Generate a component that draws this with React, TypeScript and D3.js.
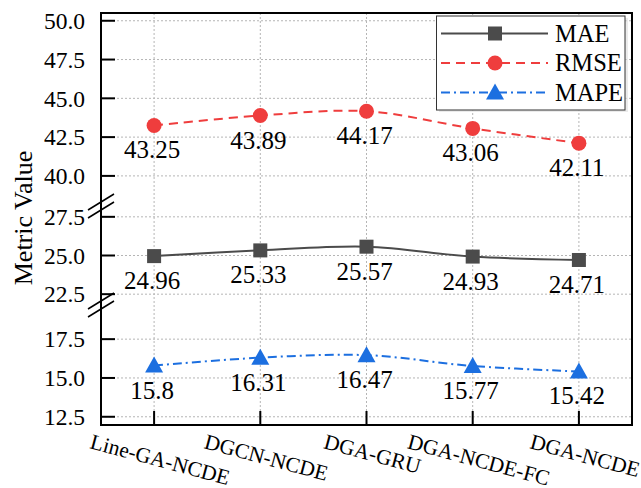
import React from "react";
import * as d3 from "d3";

const categories = ["Line-GA-NCDE", "DGCN-NCDE", "DGA-GRU", "DGA-NCDE-FC", "DGA-NCDE"];
const maeValues = [24.96, 25.33, 25.57, 24.93, 24.71];
const rmseValues = [43.25, 43.89, 44.17, 43.06, 42.11];
const mapeValues = [15.8, 16.31, 16.47, 15.77, 15.42];
const mapeLabels = ["15.8", "16.31", "16.47", "15.77", "15.42"];
const topTicks = [40, 42.5, 45, 47.5, 50];
const midTicks = [22.5, 25, 27.5];
const botTicks = [12.5, 15, 17.5];

const W = 641, H = 488;
const L = 101, R = 632, T = 13, B = 425;
const BREAK1 = 206, BREAK2 = 305;
const FONT = "Liberation Serif, Times New Roman, Times, serif";

const x = d3.scalePoint<string>().domain(categories).range([L, R]).padding(0.5);
const yTop = d3.scaleLinear().domain([38.06, 50.5]).range([BREAK1, T]);
const yMid = d3.scaleLinear().domain([21.8, 28.2]).range([BREAK2, BREAK1]);
const yBot = d3.scaleLinear().domain([11.97, 19.7]).range([B, BREAK2]);

const C_MAE = "#4b4b4b";
const C_RMSE = "#ef3d3d";
const C_MAPE = "#1c6fe0";

function measure(text: string, size: number): number {
  if (typeof document === "undefined") return text.length * size * 0.55;
  const c = document.createElement("canvas");
  const ctx = c.getContext("2d");
  if (!ctx) return text.length * size * 0.55;
  ctx.font = `${size}px "Liberation Serif", serif`;
  return ctx.measureText(text).width;
}

const Marker = ({ kind, cx, cy, color }: { kind: string; cx: number; cy: number; color: string }) => {
  if (kind === "square") return <rect x={cx - 7} y={cy - 7} width={14} height={14} fill={color} />;
  if (kind === "circle") return <circle cx={cx} cy={cy} r={7.5} fill={color} />;
  return <path d={`M${cx},${cy - 9} L${cx + 9},${cy + 7} L${cx - 9},${cy + 7} Z`} fill={color} />;
};

export default function App() {
  const line = (scale: d3.ScaleLinear<number, number>) =>
    d3
      .line<number>()
      .x((_, i) => x(categories[i])!)
      .y((d) => scale(d))
      .curve(d3.curveCatmullRom.alpha(0.5));

  const series = [
    { vals: maeValues, labels: maeValues.map((v) => v.toFixed(2)), scale: yMid, color: C_MAE, dash: "none", kind: "square" },
    { vals: rmseValues, labels: rmseValues.map((v) => v.toFixed(2)), scale: yTop, color: C_RMSE, dash: "9,6", kind: "circle" },
    { vals: mapeValues, labels: mapeLabels, scale: yBot, color: C_MAPE, dash: "9,4,2,4", kind: "triangle" },
  ];

  const yTickGroups = [
    { ticks: topTicks, scale: yTop },
    { ticks: midTicks, scale: yMid },
    { ticks: botTicks, scale: yBot },
  ];

  const legendItems = [
    { name: "MAE", color: C_MAE, dash: "none", kind: "square", y: 33.5 },
    { name: "RMSE", color: C_RMSE, dash: "9,6", kind: "circle", y: 63 },
    { name: "MAPE", color: C_MAPE, dash: "9,4,2,4", kind: "triangle", y: 92.5 },
  ];

  const sin = Math.sin((15 * Math.PI) / 180);
  const cos = Math.cos((15 * Math.PI) / 180);
  const XFS = 21.5;

  return (
    <svg width={W} height={H} style={{ position: "absolute", left: 0, top: 0, background: "#fff", fontFamily: FONT }}>
      <rect x={0} y={0} width={W} height={H} fill="#fff" />
      {/* grid */}
      {yTickGroups.map((g, gi) =>
        g.ticks.map((t) => (
          <line key={`g${gi}-${t}`} x1={L} x2={R} y1={g.scale(t)} y2={g.scale(t)} stroke="#b5b5b5" strokeWidth={1} strokeDasharray="2,2" />
        ))
      )}
      {categories.map((c) => (
        <line key={`v${c}`} x1={x(c)} x2={x(c)} y1={T} y2={B} stroke="#b5b5b5" strokeWidth={1} strokeDasharray="2,2" />
      ))}
      {/* series */}
      {series.map((s, si) => (
        <g key={`s${si}`}>
          <path d={line(s.scale)(s.vals) || ""} fill="none" stroke={s.color} strokeWidth={2} strokeDasharray={s.dash} />
          {s.vals.map((v, i) => (
            <Marker key={i} kind={s.kind} cx={x(categories[i])!} cy={s.scale(v)} color={s.color} />
          ))}
          {s.vals.map((v, i) => (
            <text key={`t${i}`} x={x(categories[i])! - 2} y={s.scale(v) + 33} textAnchor="middle" fontSize={25} fill="#000">
              {s.labels[i]}
            </text>
          ))}
        </g>
      ))}
      {/* frame */}
      <rect x={L} y={T} width={R - L} height={B - T} fill="none" stroke="#000" strokeWidth={2} />
      {/* y ticks */}
      {yTickGroups.map((g, gi) =>
        g.ticks.map((t) => (
          <g key={`yt${gi}-${t}`}>
            <line x1={L} x2={L + 14} y1={g.scale(t)} y2={g.scale(t)} stroke="#000" strokeWidth={2} />
            <text x={85} y={g.scale(t)} dy="0.35em" textAnchor="end" fontSize={23.5} fill="#000">
              {t.toFixed(1)}
            </text>
          </g>
        ))
      )}
      {/* x ticks */}
      {categories.map((c) => {
        const w = measure(c, XFS);
        const hgt = w * sin + XFS * cos;
        const cx = x(c)! + 6;
        const cy = 431 + hgt / 2;
        return (
          <g key={`xt${c}`}>
            <line x1={x(c)} x2={x(c)} y1={B} y2={B - 14} stroke="#000" strokeWidth={2} />
            <text x={cx} y={cy} dy="0.32em" textAnchor="middle" fontSize={XFS} fill="#000" transform={`rotate(15 ${cx} ${cy})`}>
              {c}
            </text>
          </g>
        );
      })}
      {/* break marks */}
      {[BREAK1, BREAK2].map((by) =>
        [-4, 4].map((o) => (
          <line key={`b${by}${o}`} x1={L - 13} y1={by + o + 8} x2={L + 13} y2={by + o - 8} stroke="#000" strokeWidth={1.5} />
        ))
      )}
      {/* axis label */}
      <text transform="translate(23,218) rotate(-90)" textAnchor="middle" dy="0.35em" fontSize={26} fill="#000">
        Metric Value
      </text>
      {/* legend */}
      <rect x={439} y={18} width={189} height={94} fill="#ddd" opacity={0.6} />
      <rect x={436.5} y={16} width={188.5} height={94} fill="#fff" stroke="#333" strokeWidth={1} />
      {legendItems.map((it) => (
        <g key={it.name}>
          <line x1={441} x2={548} y1={it.y} y2={it.y} stroke={it.color} strokeWidth={2} strokeDasharray={it.dash} />
          <Marker kind={it.kind} cx={495} cy={it.y} color={it.color} />
          <text x={555} y={it.y + 8} fontSize={24.5} fill="#000">
            {it.name}
          </text>
        </g>
      ))}
    </svg>
  );
}
